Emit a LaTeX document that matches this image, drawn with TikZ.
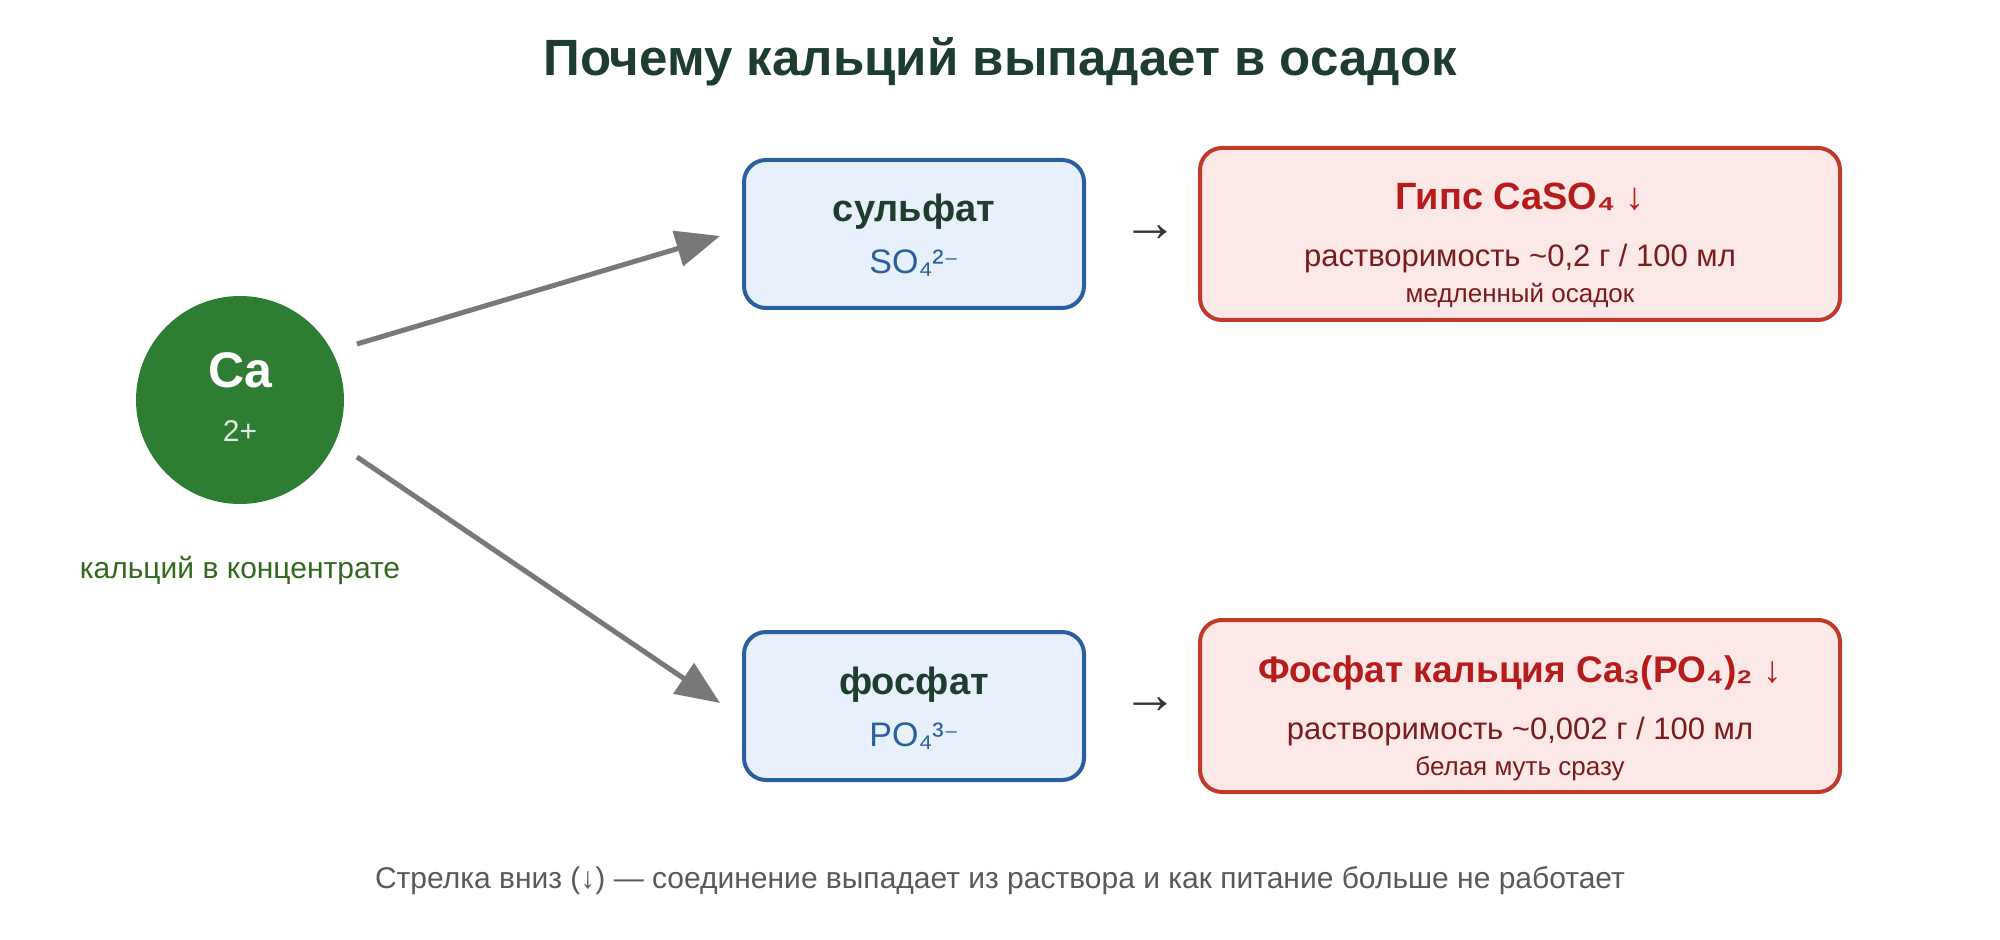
\documentclass[tikz,border=0pt]{standalone}
\usepackage{fontspec}
\setmainfont{Liberation Sans}
\newfontfamily\djv{DejaVu Sans}
\usetikzlibrary{arrows.meta}
\definecolor{ttl}{HTML}{1E3D2F}
\definecolor{cag}{HTML}{2E7D32}
\definecolor{lblg}{HTML}{33691E}
\definecolor{bfill}{HTML}{E8F1FB}
\definecolor{bdraw}{HTML}{2A5F9E}
\definecolor{rfill}{HTML}{FCE8E6}
\definecolor{rdraw}{HTML}{C0392B}
\definecolor{rtxt}{HTML}{B71C1C}
\definecolor{rdark}{HTML}{7B1C1C}
\begin{document}
\begin{tikzpicture}[x=0.5pt,y=-0.5pt,
  ion/.style={rounded corners=11pt,fill=bfill,draw=bdraw,line width=2pt,minimum width=170pt,minimum height=74pt},
  res/.style={rounded corners=11pt,fill=rfill,draw=rdraw,line width=2pt,minimum width=320pt,minimum height=86pt},
  conn/.style={draw=black!53,line width=2.5pt,-{Triangle[length=22pt,width=18pt]}},
  txt/.style={inner sep=0pt,anchor=base}]
\useasboundingbox (0,0) rectangle (2000,940);
\node[txt,font=\bfseries\fontsize{25.5}{30}\selectfont,text=ttl] (title) at (1000,76) {Почему кальций выпадает в осадок};
\node[circle,fill=cag,minimum size=104pt,inner sep=0pt] (ca) at (240,400) {};
\node[txt,font=\bfseries\fontsize{25}{30}\selectfont,text=white] (cat) at (240,388) {Ca};
\node[txt,font=\fontsize{15}{18}\selectfont,text=white!85!cag] (cach) at (240,442) {2+};
\node[txt,font=\fontsize{15}{18}\selectfont,text=lblg] (calbl) at (240,578) {кальций в концентрате};
\node[ion] (sulf) at (914,234) {};
\node[txt,font=\bfseries\fontsize{19}{22}\selectfont,text=ttl] at (914,222) {сульфат};
\node[txt,font=\fontsize{17}{20}\selectfont,text=bdraw] at (914,274) {SO₄²{\djv\fontsize{14}{16}\selectfont ⁻}};
\node[ion] (phos) at (914,706) {};
\node[txt,font=\bfseries\fontsize{19}{22}\selectfont,text=ttl] at (914,694) {фосфат};
\node[txt,font=\fontsize{17}{20}\selectfont,text=bdraw] at (914,746) {PO₄³{\djv\fontsize{14}{16}\selectfont ⁻}};
\coordinate (s1) at (357,344); \coordinate (e1) at (720,236);
\coordinate (s2) at (357,457); \coordinate (e2) at (720,703);
\draw[conn] (s1) -- (e1);
\draw[conn] (s2) -- (e2);
\node[font=\fontsize{28}{30}\selectfont,text=black!80] (a1) at (1150,234) {→};
\node[font=\fontsize{28}{30}\selectfont,text=black!80] (a2) at (1150,706) {→};
\node[res] (gyps) at (1520,234) {};
\node[txt,font=\bfseries\fontsize{19}{22}\selectfont,text=rtxt] at (1520,210) {Гипс CaSO₄ ↓};
\node[txt,font=\fontsize{15.5}{18}\selectfont,text=rdark] at (1520,267) {растворимость \textasciitilde0,2 г / 100 мл};
\node[txt,font=\fontsize{13}{16}\selectfont,text=rdark] at (1520,303) {медленный осадок};
\node[res] (cap) at (1520,706) {};
\node[txt,font=\bfseries\fontsize{18.5}{22}\selectfont,text=rtxt] at (1520,682) {Фосфат кальция Ca₃(PO₄)₂ ↓};
\node[txt,font=\fontsize{15.5}{18}\selectfont,text=rdark] at (1520,739) {растворимость \textasciitilde0,002 г / 100 мл};
\node[txt,font=\fontsize{13}{16}\selectfont,text=rdark] at (1520,775) {белая муть сразу};
\node[txt,font=\fontsize{15}{18}\selectfont,text=black!65] (foot) at (1000,888) {Стрелка вниз (↓) — соединение выпадает из раствора и как питание больше не работает};
\end{tikzpicture}
\end{document}
